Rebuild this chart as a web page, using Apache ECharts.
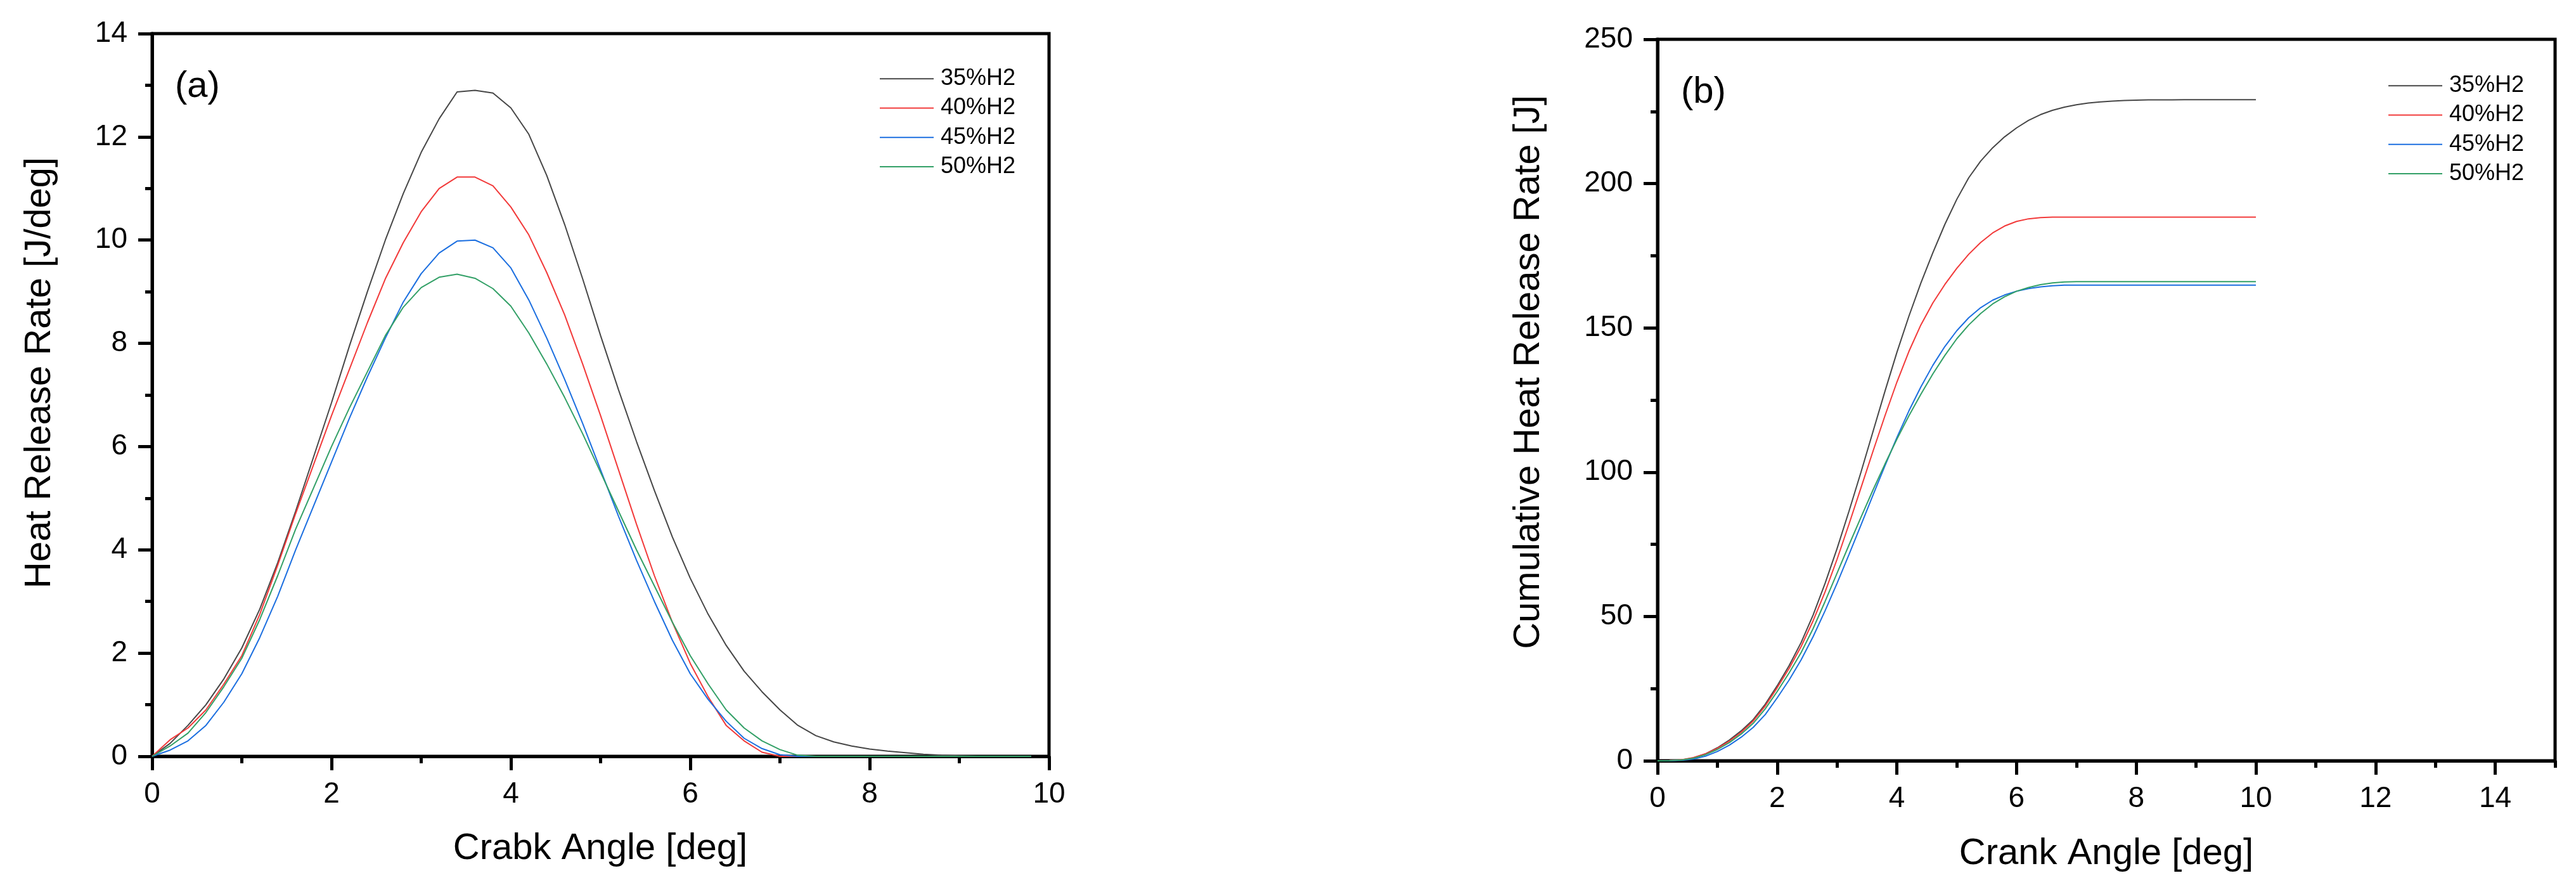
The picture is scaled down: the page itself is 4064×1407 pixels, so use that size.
<!DOCTYPE html>
<html><head><meta charset="utf-8">
<script src="https://cdn.jsdelivr.net/npm/echarts@6/dist/echarts.min.js"></script>
<style>html,body{margin:0;padding:0;background:#fff}#c{width:4064px;height:1407px}</style>
</head><body><div id="c"></div>
<script>
const seriesNames = ['35%H2', '40%H2', '45%H2', '50%H2'];
const seriesColors = ['#474747', '#f23a3a', '#1c6fe0', '#33a067'];

// Panel (a): heat release rate [J/deg] vs crank angle
const hrrX = [0,0.2,0.4,0.6,0.8,1,1.2,1.4,1.6,1.8,2,2.2,2.4,2.6,2.8,3,3.2,3.4,3.6,3.8,4,4.2,4.4,4.6,4.8,5,5.2,5.4,5.6,5.8,6,6.2,6.4,6.6,6.8,7,7.2,7.4,7.6,7.8,8,8.2,8.4,8.6,8.8,9,9.2,9.4,9.6,9.8];
const hrr35 = [0,0.25,0.6,1.0,1.5,2.1,2.85,3.75,4.75,5.8,6.85,7.95,9.0,10.0,10.9,11.7,12.35,12.87,12.9,12.85,12.56,12.05,11.25,10.3,9.25,8.15,7.1,6.1,5.15,4.25,3.45,2.75,2.15,1.65,1.25,0.9,0.6,0.4,0.28,0.2,0.14,0.1,0.07,0.04,0.02,0.01,0,0,0,0];
const hrr40 = [0,0.32,0.55,0.9,1.4,1.95,2.75,3.7,4.7,5.65,6.6,7.5,8.4,9.25,9.95,10.55,11.0,11.22,11.22,11.05,10.64,10.1,9.37,8.55,7.6,6.6,5.55,4.5,3.5,2.6,1.8,1.15,0.6,0.3,0.08,0,0,0,0,0,0,0,0,0,0,0,0,0,0,0];
const hrr45 = [0,0.12,0.3,0.6,1.05,1.6,2.3,3.1,4.0,4.85,5.7,6.55,7.35,8.1,8.8,9.35,9.75,9.98,10.0,9.85,9.46,8.84,8.1,7.3,6.45,5.55,4.65,3.8,3.0,2.25,1.6,1.1,0.68,0.35,0.15,0.03,0,0,0,0,0,0,0,0,0,0,0,0,0,0];
const hrr50 = [0,0.2,0.45,0.85,1.35,1.9,2.65,3.5,4.4,5.2,6.0,6.75,7.45,8.15,8.7,9.08,9.28,9.34,9.26,9.06,8.72,8.2,7.6,6.95,6.25,5.5,4.75,4.0,3.3,2.6,1.95,1.4,0.9,0.55,0.3,0.13,0.02,0,0,0,0,0,0,0,0,0,0,0,0,0];

// Panel (b): cumulative heat release [J] vs crank angle
const cumX = [0,0.2,0.4,0.6,0.8,1,1.2,1.4,1.6,1.8,2,2.2,2.4,2.6,2.8,3,3.2,3.4,3.6,3.8,4,4.2,4.4,4.6,4.8,5,5.2,5.4,5.6,5.8,6,6.2,6.4,6.6,6.8,7,7.2,7.4,7.6,7.8,8,8.2,8.4,8.6,8.8,9,9.2,9.4,9.6,9.8,10];
const cum35 = [0,0.05,0.3,1.0,2.4,4.5,7.2,10.4,14.3,19.6,26.0,33.0,41.0,50.5,61.5,73.5,86.5,100.0,114.0,128.0,141.5,154.0,165.5,176.0,185.8,194.5,202.0,207.8,212.4,216.2,219.3,221.9,223.9,225.4,226.5,227.3,227.9,228.3,228.6,228.8,228.9,229.0,229.0,229.0,229.1,229.1,229.1,229.1,229.1,229.1,229.1];
const cum40 = [0,0.05,0.35,1.1,2.4,4.3,6.8,9.9,13.8,19.0,25.3,32.0,39.6,48.5,58.5,69.8,82.0,94.6,107.2,119.5,131.2,141.8,151.0,158.6,165.0,170.6,175.5,179.6,182.9,185.3,186.9,187.8,188.2,188.4,188.4,188.4,188.4,188.4,188.4,188.4,188.4,188.4,188.4,188.4,188.4,188.4,188.4,188.4,188.4,188.4,188.4];
const cum45 = [0,0.02,0.15,0.6,1.6,3.2,5.4,8.2,11.6,16.0,21.8,28.0,35.0,43.0,52.0,61.5,71.5,81.7,92.0,102.2,112.0,121.2,129.5,137.0,143.5,149.0,153.5,157.0,159.6,161.4,162.7,163.6,164.2,164.6,164.8,164.8,164.8,164.8,164.8,164.8,164.8,164.8,164.8,164.8,164.8,164.8,164.8,164.8,164.8,164.8,164.8];
const cum50 = [0,0.03,0.25,0.9,2.1,3.9,6.3,9.3,13.0,18.0,24.0,30.5,37.5,45.8,55.2,65.0,74.8,84.4,93.8,102.8,111.4,119.5,127.0,134.0,140.4,146.2,151.0,155.0,158.3,160.8,162.7,164.0,165.0,165.6,165.9,166.0,166.0,166.0,166.0,166.0,166.0,166.0,166.0,166.0,166.0,166.0,166.0,166.0,166.0,166.0,166.0];

// Tick positions for panel (b) x axis
const cumXMajorTicks = [0,2,4,6,8,10,12,14];
const cumXMinorTicks = [1,3,5,7,9,11,13,15];

const FONT = "'Liberation Sans', Arial, Helvetica, sans-serif";
function pairs(xs, ys) { return xs.map((x, i) => [x, ys[i]]); }

const lineAx = { show: true, lineStyle: { color: '#000', width: 5 } };
const tickMaj = { show: true, inside: false, length: 22, lineStyle: { color: '#000', width: 5 } };
const tickMin = { show: true, splitNumber: 2, length: 11, lineStyle: { color: '#000', width: 5 } };
const lbl = (m) => ({ color: '#000', fontFamily: FONT, fontSize: 46, margin: m });

const hrrSeries = [hrr35, hrr40, hrr45, hrr50];
const cumSeries = [cum35, cum40, cum45, cum50];

const series = [];
hrrSeries.forEach((ys, i) => series.push({
  name: seriesNames[i], type: 'line', xAxisIndex: 0, yAxisIndex: 0,
  data: pairs(hrrX, ys), symbol: 'none', smooth: false,
  lineStyle: { color: seriesColors[i], width: 2 }, itemStyle: { color: seriesColors[i] },
  z: 3 + i
}));
cumSeries.forEach((ys, i) => series.push({
  name: seriesNames[i], type: 'line', xAxisIndex: 1, yAxisIndex: 1,
  data: pairs(cumX, ys), symbol: 'none', smooth: false,
  lineStyle: { color: seriesColors[i], width: 2 }, itemStyle: { color: seriesColors[i] },
  z: 3 + i
}));

const legendCommon = {
  data: seriesNames, orient: 'vertical', icon: 'rect', itemWidth: 85, itemHeight: 2, itemGap: 0,
  selectedMode: false, padding: 0,
  textStyle: { fontSize: 36, fontFamily: FONT, color: '#000', lineHeight: 46.3, padding: [0, 0, 0, 6] }
};

function txt(x, y, text, size, rot, align) {
  return {
    type: 'text', x: x, y: y, rotation: rot || 0, z: 100,
    style: {
      text: text, fill: '#000', fontSize: size, fontFamily: FONT,
      align: align || 'center', verticalAlign: 'middle',
      textAlign: align || 'center', textVerticalAlign: 'middle'
    }
  };
}

const chart = echarts.init(document.getElementById('c'), null, { renderer: 'canvas' });
chart.setOption({
  animation: false,
  backgroundColor: '#fff',
  grid: [
    { left: 240, top: 53, width: 1415, height: 1140, show: true, borderColor: '#000', borderWidth: 5, backgroundColor: 'transparent' },
    { left: 2615, top: 62, width: 1416, height: 1138, show: true, borderColor: '#000', borderWidth: 5, backgroundColor: 'transparent' }
  ],
  xAxis: [
    { gridIndex: 0, type: 'value', min: 0, max: 10, interval: 2, axisLine: lineAx, axisTick: tickMaj, minorTick: tickMin, splitLine: { show: false }, axisLabel: lbl(37) },
    { gridIndex: 1, type: 'value', min: 0, max: 15, interval: 1, axisLine: lineAx,
      axisTick: Object.assign({}, tickMaj, { customValues: cumXMajorTicks }),
      minorTick: { show: false }, splitLine: { show: false },
      axisLabel: Object.assign(lbl(37), { customValues: cumXMajorTicks }) },
    { gridIndex: 1, type: 'value', min: 0, max: 15, interval: 1, position: 'bottom', offset: 0,
      axisLine: { show: false },
      axisTick: { show: true, inside: false, length: 11, lineStyle: { color: '#000', width: 5 }, customValues: cumXMinorTicks },
      axisLabel: { show: false }, splitLine: { show: false } }
  ],
  yAxis: [
    { gridIndex: 0, type: 'value', min: 0, max: 14, interval: 2, axisLine: lineAx, axisTick: tickMaj, minorTick: tickMin, splitLine: { show: false }, axisLabel: lbl(39) },
    { gridIndex: 1, type: 'value', min: 0, max: 250, interval: 50, axisLine: lineAx, axisTick: tickMaj, minorTick: tickMin, splitLine: { show: false }, axisLabel: lbl(39) }
  ],
  legend: [
    Object.assign({}, legendCommon, { left: 1388, top: 101 }),
    Object.assign({}, legendCommon, { left: 3768, top: 112 })
  ],
  graphic: [
    txt(947, 1339, 'Crabk Angle [deg]', 58, 0),
    txt(3323, 1347, 'Crank Angle [deg]', 58, 0),
    txt(63, 588, 'Heat Release Rate [J/deg]', 58, Math.PI / 2),
    txt(2412, 587, 'Cumulative Heat Release Rate [J]', 58, Math.PI / 2),
    txt(276, 137, '(a)', 58, 0, 'left'),
    txt(2652, 146, '(b)', 58, 0, 'left')
  ],
  series: series
});
</script>
</body></html>
